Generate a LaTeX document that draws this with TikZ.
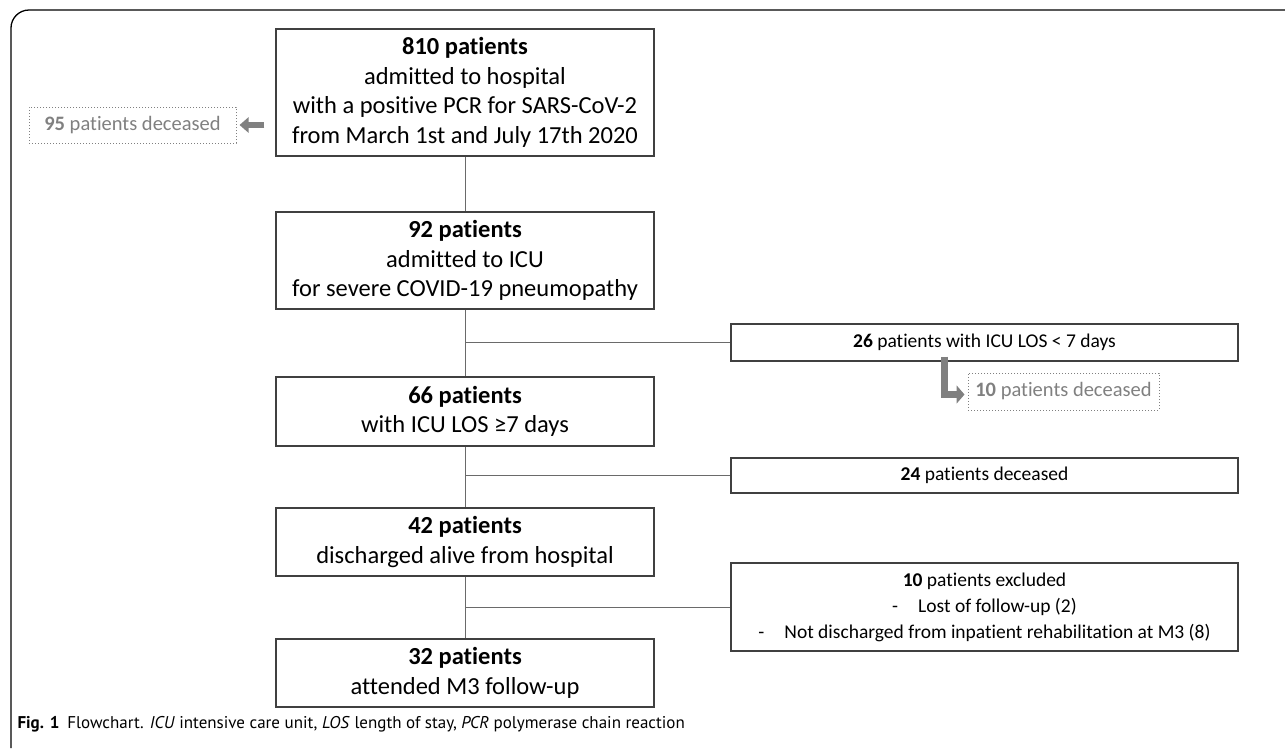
\documentclass[tikz,border=0pt]{standalone}
\usepackage{fontspec}
\setmainfont{Carlito}[Ligatures=NoCommon]
\newfontfamily\capfont{PT Sans}
\usetikzlibrary{arrows.meta}
\definecolor{boxline}{HTML}{404040}
\definecolor{connc}{HTML}{6A6A6A}
\definecolor{grayt}{HTML}{808080}
\tikzset{
  mainbox/.style={draw=boxline, line width=1.2pt, minimum width=378pt, inner sep=0pt, align=center, font=\fontsize{24.5}{29.5}\selectfont},
  sidebox/.style={draw=boxline, line width=1.2pt, minimum width=507pt, inner sep=0pt, align=center, font=\fontsize{19.5}{26}\selectfont},
  deadbox/.style={draw=grayt, dotted, line width=1pt, inner sep=0pt, text=grayt, align=center, font=\fontsize{20.5}{26}\selectfont},
  grayarrow/.style={draw=grayt, line width=6pt, -{Triangle[length=9pt,width=15pt]}},
  grayarrowL/.style={draw=grayt, line width=7.5pt, -{Triangle[length=8pt,width=18pt]}},
  connline/.style={draw=connc, line width=1pt},
  frameline/.style={draw=black, line width=1.3pt, rounded corners=18pt}
}
\begin{document}
\begin{tikzpicture}[x=1pt,y=-1pt]
\useasboundingbox (0,0) rectangle (1285,748);
\draw[frameline] (11,748) -- (11,10) -- (1285,10);

\node[mainbox, minimum height=127pt] (b810) at (465,92.5) {{\bfseries 810 patients}\\admitted to hospital\\with a positive PCR for SARS-CoV-2\\from March 1st and July 17th 2020};
\node[mainbox, minimum height=97pt] (b92) at (465,260.5) {{\bfseries 92 patients}\\admitted to ICU\\for severe COVID-19 pneumopathy};
\node[mainbox, minimum height=69pt] (b66) at (465,411.5) {{\bfseries 66 patients}\\with ICU LOS ≥7 days};
\node[mainbox, minimum height=68pt] (b42) at (465,542) {{\bfseries 42 patients}\\discharged alive from hospital};
\node[mainbox, minimum height=68pt] (b32) at (465,673) {{\bfseries 32 patients}\\attended M3 follow-up};

\node[deadbox, minimum width=207pt, minimum height=36pt] (d95) at (132.5,125) {{\bfseries 95} patients deceased};
\node[sidebox, minimum height=37pt] (b26) at (984.5,342.5) {{\bfseries 26} patients with ICU LOS < 7 days};
\node[deadbox, minimum width=191pt, minimum height=37pt] (d10) at (1063.5,391.5) {{\bfseries 10} patients deceased};
\node[sidebox, minimum height=35pt] (b24) at (984.5,475.5) {{\bfseries 24} patients deceased};
\node[sidebox, minimum height=88pt] (bex) at (984.5,607) {{\bfseries 10} patients excluded\\-\hspace{20pt}Lost of follow-up (2)\\-\hspace{20pt}Not discharged from inpatient rehabilitation at M3 (8)};

\draw[connline] (b810) -- (b92);
\draw[connline] (b92) -- (b66);
\draw[connline] (b66) -- (b42);
\draw[connline] (b42) -- (b32);
\draw[connline] (b26.west -| b92.south) -- (b26.west);
\draw[connline] (b24.west -| b66.south) -- (b24.west);
\draw[connline] (bex.west -| b42.south) -- (bex.west);

\coordinate (lx) at (944.5,0);
\draw[grayarrow, shorten <=11pt, shorten >=3pt] (b810.west |- d95.east) -- (d95.east);
\draw[grayarrowL, shorten >=3pt] ([yshift=5pt]b26.south -| lx) |- ([yshift=-3pt]d10.west);

\node[anchor=west, font=\capfont\fontsize{17}{20}\selectfont] (cap) at (14,724) {{\bfseries Fig. 1}\hspace{8pt}Flowchart. \textit{ICU} intensive care unit, \textit{LOS} length of stay, \textit{PCR} polymerase chain reaction};
\end{tikzpicture}
\end{document}
